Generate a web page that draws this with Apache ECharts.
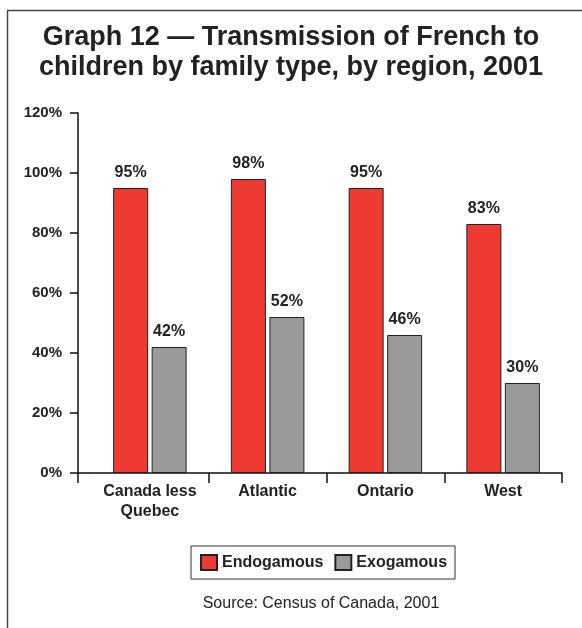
<!DOCTYPE html>
<html>
<head>
<meta charset="utf-8">
<script src="https://cdn.jsdelivr.net/npm/echarts@6/dist/echarts.min.js"></script>
<style>
  html, body { margin: 0; padding: 0; background: #fff; }
  #chart { width: 582px; height: 628px; }
</style>
</head>
<body>
<div id="chart"></div>
<script>
// Regions and share of children to whom French is transmitted (%)
const regions = ['Canada less\nQuebec', 'Atlantic', 'Ontario', 'West'];
const endogamous = [95, 98, 95, 83];
const exogamous = [42, 52, 46, 30];
const yTicks = { min: 0, max: 120, step: 20 };

const FONT = 'Liberation Sans, Arial, Helvetica, sans-serif';
const INK = '#222';
const AXIS_OFFSET = 13;

const chart = echarts.init(document.getElementById('chart'), null, { renderer: 'canvas' });

const labelStyle = {
  show: true,
  position: 'top',
  distance: 7,
  formatter: '{c}%',
  fontFamily: FONT,
  fontWeight: 'bold',
  fontSize: 16,
  color: INK
};

chart.setOption({
  backgroundColor: '#fff',
  animation: false,
  title: {
    text: 'Graph 12 \u2014 Transmission of French to\nchildren by family type, by region, 2001',
    left: 'center',
    top: 18,
    textStyle: {
      fontFamily: FONT,
      fontWeight: 'bold',
      fontSize: 27,
      lineHeight: 30,
      color: INK
    }
  },
  legend: {
    left: 191,
    top: 546,
    padding: [8, 8, 8, 9],
    itemGap: 11,
    itemWidth: 16,
    itemHeight: 15,
    borderColor: '#333',
    borderWidth: 1,
    icon: 'rect',
    textStyle: {
      fontFamily: FONT,
      fontWeight: 'bold',
      fontSize: 16,
      color: INK
    },
    data: ['Endogamous', 'Exogamous']
  },
  grid: {
    left: 91,
    right: 20,
    top: 113,
    bottom: 155,
    containLabel: false
  },
  xAxis: {
    type: 'category',
    data: regions,
    axisLine: { show: true, lineStyle: { color: '#111', width: 1.5 } },
    axisTick: {
      show: true,
      length: 10,
      // the band's left edge is covered by the baseline stub drawn below
      interval: function (index) { return index !== 0; },
      lineStyle: { color: '#111', width: 1.5 }
    },
    axisLabel: {
      interval: 0,
      margin: 9,
      fontFamily: FONT,
      fontWeight: 'bold',
      fontSize: 16,
      lineHeight: 20,
      color: INK
    }
  },
  yAxis: {
    type: 'value',
    min: yTicks.min,
    max: yTicks.max,
    interval: yTicks.step,
    offset: AXIS_OFFSET,
    axisLine: { show: true, lineStyle: { color: '#111', width: 1.5 } },
    axisTick: { show: true, length: 8, lineStyle: { color: '#111', width: 1.5 } },
    splitLine: { show: false },
    axisLabel: {
      margin: 16,
      formatter: '{value}%',
      fontFamily: FONT,
      fontWeight: 'bold',
      fontSize: 15,
      color: INK
    }
  },
  series: [
    {
      name: 'Endogamous',
      type: 'bar',
      data: endogamous,
      barWidth: 35,
      barGap: '10%',
      itemStyle: { color: '#ee3a33', borderColor: '#222', borderWidth: 1 },
      label: labelStyle
    },
    {
      name: 'Exogamous',
      type: 'bar',
      data: exogamous,
      barWidth: 35,
      barGap: '10%',
      itemStyle: { color: '#9a9a9a', borderColor: '#222', borderWidth: 1 },
      label: labelStyle
    }
  ]
});

// Frame around the figure and the short stretch of baseline between the
// offset value axis and the first category band, placed from the axis scales.
const gridRect = chart.getModel().getComponent('grid').coordinateSystem.getRect();
const y0 = chart.convertToPixel({ yAxisIndex: 0 }, yTicks.min);
const xAxisLeft = gridRect.x - AXIS_OFFSET;

chart.setOption({
  graphic: [
    {
      type: 'rect',
      silent: true,
      shape: { x: 7.5, y: 10.5, width: 640, height: 700 },
      style: { fill: null, stroke: '#444', lineWidth: 1.5 }
    },
    {
      type: 'polyline',
      silent: true,
      shape: { points: [[gridRect.x, y0], [xAxisLeft, y0], [xAxisLeft, y0 + 10]] },
      style: { fill: null, stroke: '#111', lineWidth: 1.5 }
    },
    {
      type: 'text',
      silent: true,
      x: 321,
      y: 604,
      style: {
        text: 'Source: Census of Canada, 2001',
        fontFamily: FONT,
        fontSize: 16,
        fill: '#222',
        textAlign: 'center',
        textVerticalAlign: 'middle'
      }
    }
  ]
});
</script>
</body>
</html>
